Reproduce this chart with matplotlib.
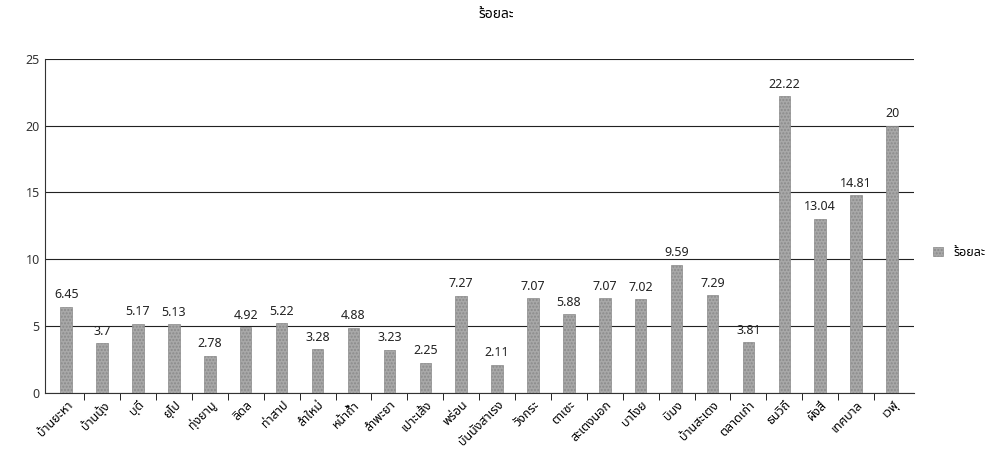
import matplotlib.pyplot as plt
import numpy as np

plt.rcParams['font.family'] = ['Noto Sans Thai', 'Loma', 'Garuda', 'Norasi', 'DejaVu Sans']

# data
places = ['บ้านยะหา', 'บ้านนุ้ง', 'บุดี', 'ยุโป', 'ทุ่งยามู', 'ลิดล', 'ท่าสาป', 'ลำใหม่',
          'หน้าถ้ำ', 'ลำพะยา', 'เปาะเส้ง', 'พร่อน', 'บันนังสาเรง', 'วังกระ', 'ตาเซะ',
          'สะเตงนอก', 'บาโงย', 'บิมง', 'บ้านสะเตง', 'ตลาดเก่า', 'ธนวิถี', 'ผังสี่',
          'เทศบาล', 'เวฬุ']
percent = [6.45, 3.7, 5.17, 5.13, 2.78, 4.92, 5.22, 3.28, 4.88, 3.23, 2.25, 7.27,
           2.11, 7.07, 5.88, 7.07, 7.02, 9.59, 7.29, 3.81, 22.22, 13.04, 14.81, 20]
yticks = [0, 5, 10, 15, 20, 25]

fig = plt.figure(figsize=(9.93, 4.54), dpi=100)
ax = fig.add_axes([0.045, 0.135, 0.875, 0.735])

x = np.arange(len(places))
ax.bar(x, percent, width=0.32, color='#a8a8a8', edgecolor='#8a8a8a',
       linewidth=0.5, hatch='.....', zorder=3, label='ร้อยละ')
for xi, v in zip(x, percent):
    ax.text(xi, v + 0.4, f'{v:g}', ha='center', va='bottom', fontsize=9,
            color='#222222', zorder=4)

ax.set_ylim(0, 25)
ax.set_xlim(-0.6, len(places) - 0.4)
ax.set_yticks(yticks)
ax.tick_params(axis='y', length=0, labelsize=9, labelcolor='#333333')
ax.set_xticks(x)
ax.set_xticklabels(places, rotation=45, ha='right', rotation_mode='anchor', fontsize=9)
ax.tick_params(axis='x', which='major', length=0, pad=4)
# tick marks on category boundaries
ax.set_xticks(x[:-1] + 0.5, minor=True)
ax.tick_params(axis='x', which='minor', length=5, direction='out')
ax.grid(axis='y', color='#222222', linewidth=0.8, zorder=1)
for s in ['top', 'right']:
    ax.spines[s].set_visible(False)
ax.spines['left'].set_color('#333333')
ax.spines['bottom'].set_color('#333333')

fig.suptitle('ร้อยละ', y=0.985, fontsize=10, fontweight='bold')
ax.legend(loc='center left', bbox_to_anchor=(1.01, 0.42), frameon=False,
          fontsize=9, handlelength=0.8, handleheight=0.8)

fig.savefig('out.png', dpi=100)
